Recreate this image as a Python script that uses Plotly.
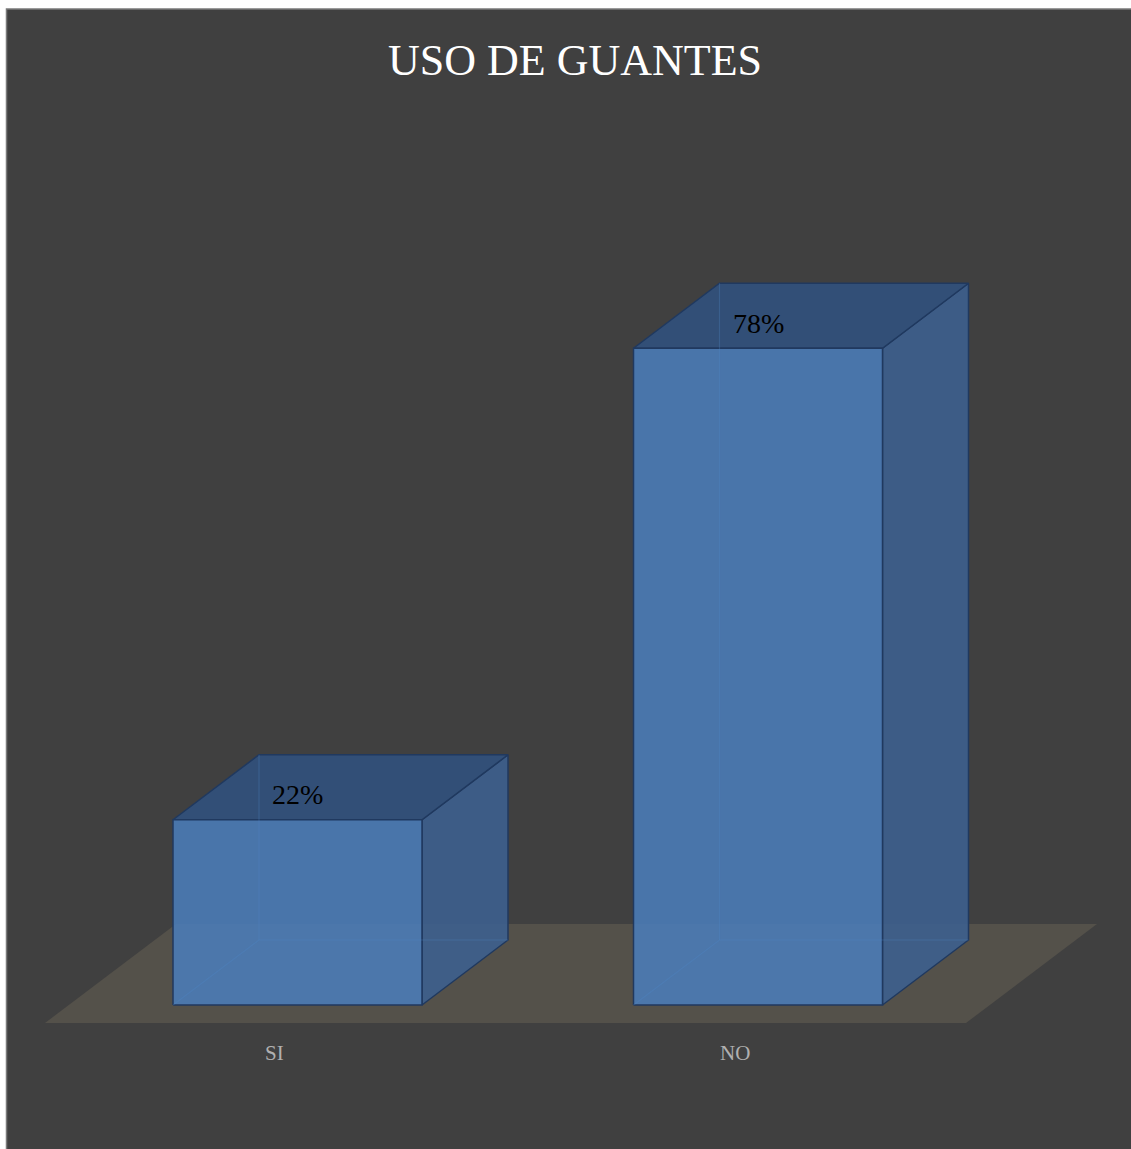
import plotly.graph_objects as go

# ---- data ----
categories = ["SI", "NO"]
values = [22, 78]
value_labels = ["22%", "78%"]
title_text = "USO DE GUANTES"

# ---- geometry / style (pixel mapping of the axes) ----
W, H = 1131, 1149
X0_PX, PX_PER_X = 297.5, 460.5      # pixel of category 0, pixels per category step
Y0_PX, PX_PER_PCT = 1005.0, 8.42    # pixel of 0 %, pixels per percent
BAR_W = 249 / PX_PER_X
DX = 86 / PX_PER_X                  # 3D depth offset in x units
DY = 65 / PX_PER_PCT                # 3D depth offset in y units
FLOOR_FRONT = (Y0_PX - 1023) / PX_PER_PCT
FLOOR_BACK = (Y0_PX - 924) / PX_PER_PCT
FLOOR_XL = (45 - X0_PX) / PX_PER_X
FLOOR_XR = (966 - X0_PX) / PX_PER_X
FLOOR_DX = DX * (FLOOR_BACK - FLOOR_FRONT) / DY

FRONT = "rgba(74,126,187,0.86)"
SIDE = "rgba(60,96,143,0.88)"
TOP = "rgba(50,80,122,0.95)"
EDGE = "#20395f"
HIDDEN = "rgba(80,135,200,0.28)"
FLOOR = "#54514a"
BG = "#404040"

fig = go.Figure()

def poly(xs, ys, fill, line_color=EDGE, width=1.5):
    fig.add_trace(go.Scatter(
        x=xs + [xs[0]], y=ys + [ys[0]], mode="lines", fill="toself",
        fillcolor=fill, line=dict(color=line_color, width=width),
        hoverinfo="skip", showlegend=False))

# floor
poly([FLOOR_XL, FLOOR_XR, FLOOR_XR + FLOOR_DX, FLOOR_XL + FLOOR_DX],
     [FLOOR_FRONT, FLOOR_FRONT, FLOOR_BACK, FLOOR_BACK], FLOOR, FLOOR, 0)

for i, v in enumerate(values):
    xl, xr = i - BAR_W / 2, i + BAR_W / 2
    # right side face
    poly([xr, xr + DX, xr + DX, xr], [0, DY, v + DY, v], SIDE)
    # top face
    poly([xl, xr, xr + DX, xl + DX], [v, v, v + DY, v + DY], TOP)
    # front face
    poly([xl, xr, xr, xl], [0, 0, v, v], FRONT)
    # hidden back edges seen through the translucent front
    fig.add_trace(go.Scatter(
        x=[xl, xl + DX, xr + DX, None, xl + DX, xl + DX],
        y=[0, DY, DY, None, DY, v + DY],
        mode="lines", line=dict(color=HIDDEN, width=1.2),
        hoverinfo="skip", showlegend=False))

annotations = []
for i, (v, lab) in enumerate(zip(values, value_labels)):
    annotations.append(dict(
        x=i, y=v, xref="x", yref="y", text=lab, showarrow=False,
        yshift=25, font=dict(family="Liberation Serif", size=28, color="#000000")))
for i, c in enumerate(categories):
    annotations.append(dict(
        x=i, y=0, xref="x", yref="y", text=c, showarrow=False,
        xshift=-23, yshift=-48,
        font=dict(family="Liberation Serif", size=21, color="#b0b0b0")))
annotations.append(dict(
    x=575 / W, y=1 - 60 / H, xref="paper", yref="paper", text=title_text,
    showarrow=False, xanchor="center", yanchor="middle",
    font=dict(family="Liberation Serif", size=44, color="#ffffff")))

fig.update_layout(
    width=W, height=H,
    margin=dict(l=0, r=0, t=0, b=0),
    paper_bgcolor="#ffffff",
    plot_bgcolor="rgba(0,0,0,0)",
    showlegend=False,
    xaxis=dict(range=[(0 - X0_PX) / PX_PER_X, (W - X0_PX) / PX_PER_X],
               visible=False, fixedrange=True),
    yaxis=dict(range=[(Y0_PX - H) / PX_PER_PCT, Y0_PX / PX_PER_PCT],
               visible=False, fixedrange=True),
    shapes=[dict(type="rect", xref="paper", yref="paper", layer="below",
                 x0=6.5 / W, x1=1.01, y0=-0.01, y1=1 - 9 / H,
                 fillcolor=BG, line=dict(color="#7a7a7a", width=1.5))],
    annotations=annotations,
)

fig.write_html("out.html", config={"displayModeBar": False})
